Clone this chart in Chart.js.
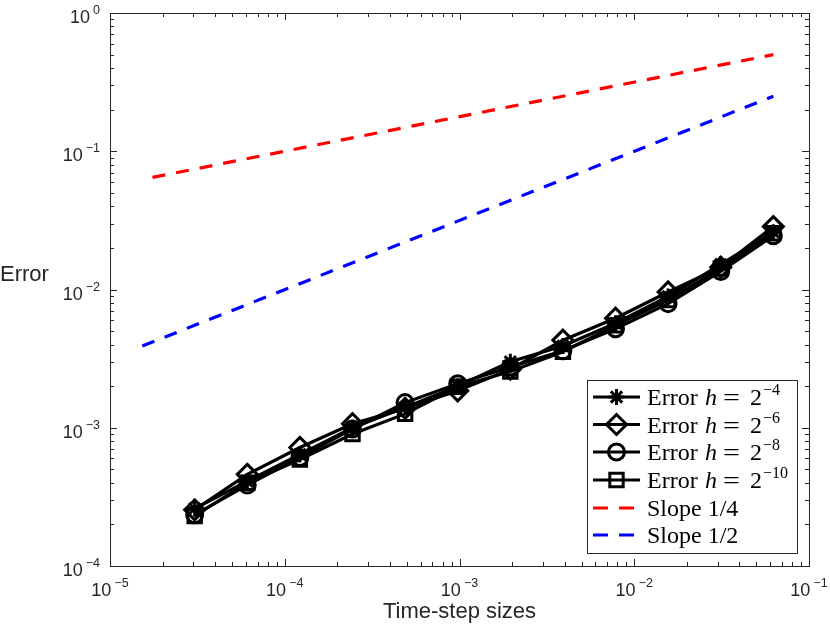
<!DOCTYPE html>
<html>
<head>
<meta charset="utf-8">
<script src="https://cdn.jsdelivr.net/npm/chart.js@4.4.0/dist/chart.umd.min.js"></script>
<style>
  html, body { margin: 0; padding: 0; background: #fff; }
  #wrap { width: 830px; height: 631px; }
</style>
</head>
<body>
<div id="wrap"><canvas id="myChart" width="830" height="631"></canvas></div>
<script>
// time-step sizes (2^-15 ... 2^-4)
const stepSizes = [3.0518e-5, 6.1035e-5, 1.2207e-4, 2.4414e-4, 4.8828e-4, 9.7656e-4,
                   1.9531e-3, 3.9063e-3, 7.8125e-3, 1.5625e-2, 3.125e-2, 6.25e-2]

// errors
const errH4  = [2.6e-4, 4.1e-4, 6.4e-4, 1.0e-3, 1.4e-3, 2.0e-3, 3.0e-3, 3.9e-3, 5.7e-3, 8.9e-3, 1.52e-2, 2.6e-2]
const errH6  = [2.55e-4, 4.6e-4, 7.2e-4, 1.07e-3, 1.38e-3, 1.85e-3, 2.65e-3, 4.3e-3, 6.2e-3, 9.6e-3, 1.45e-2, 2.85e-2]
const errH8  = [2.35e-4, 3.85e-4, 6.1e-4, 9.8e-4, 1.52e-3, 2.08e-3, 2.75e-3, 3.6e-3, 5.2e-3, 7.9e-3, 1.35e-2, 2.45e-2]
const errH10 = [2.3e-4, 4.0e-4, 5.9e-4, 9.0e-4, 1.26e-3, 1.98e-3, 2.55e-3, 3.55e-3, 5.5e-3, 8.4e-3, 1.42e-2, 2.55e-2]

// reference slopes
const slopeQuarterX = [1.75e-5, 6.25e-2]
const slopeQuarterY = [0.0647, 0.5]
const slopeHalfX = [1.53e-5, 6.25e-2]
const slopeHalfY = [0.0039, 0.25]

const xDecades = [-5, -4, -3, -2, -1]
const yDecades = [-4, -3, -2, -1, 0]

const legendRows = [
  { exp: '−4', style: 'star', radius: 8 },
  { exp: '−6', style: 'rectRot', radius: 10 },
  { exp: '−8', style: 'circle', radius: 8 },
  { exp: '−10', style: 'rect', radius: 9.5 },
  { text: 'Slope 1/4', color: '#ff0000' },
  { text: 'Slope 1/2', color: '#0000ff' }
]

function pts(xs, ys) {
  return xs.map((x, i) => ({ x: x, y: ys[i] }))
}

function errSet(label, ys, style, radius) {
  return {
    label: label,
    data: pts(stepSizes, ys),
    borderColor: '#000',
    borderWidth: 3.2,
    pointStyle: style,
    pointRadius: radius,
    pointBorderWidth: 3,
    pointBorderColor: '#000',
    pointBackgroundColor: 'rgba(0,0,0,0)',
    tension: 0
  }
}

function slopeSet(label, xs, ys, color) {
  return {
    label: label,
    data: pts(xs, ys),
    borderColor: color,
    borderWidth: 3.2,
    borderDash: [13, 11],
    pointRadius: 0,
    tension: 0
  }
}

const matlabAxes = {
  id: 'matlabAxes',
  afterDraw(chart) {
    const ctx = chart.ctx
    const a = chart.chartArea
    const xs = chart.scales.x
    const ys = chart.scales.y
    ctx.save()
    ctx.strokeStyle = '#262626'
    ctx.lineWidth = 1
    ctx.strokeRect(a.left + 0.5, a.top + 0.5, a.right - a.left, a.bottom - a.top)

    // ticks on all four sides, pointing in
    ctx.beginPath()
    xDecades.forEach(d => {
      for (let m = 1; m <= 9; m++) {
        const v = m * Math.pow(10, d)
        if (v > 0.1 * 1.0001) continue
        const px = Math.round(xs.getPixelForValue(v)) + 0.5
        const len = m === 1 ? 7 : 4
        ctx.moveTo(px, a.bottom); ctx.lineTo(px, a.bottom - len)
        ctx.moveTo(px, a.top); ctx.lineTo(px, a.top + len)
      }
    })
    yDecades.forEach(d => {
      for (let m = 1; m <= 9; m++) {
        const v = m * Math.pow(10, d)
        if (v > 1.0001) continue
        const py = Math.round(ys.getPixelForValue(v)) + 0.5
        const len = m === 1 ? 7 : 4
        ctx.moveTo(a.left, py); ctx.lineTo(a.left + len, py)
        ctx.moveTo(a.right, py); ctx.lineTo(a.right - len, py)
      }
    })
    ctx.stroke()

    // tick labels 10^n
    ctx.fillStyle = '#262626'
    ctx.textBaseline = 'alphabetic'
    const big = '18px "Liberation Sans", Arial, sans-serif'
    const small = '12.5px "Liberation Sans", Arial, sans-serif'
    function measure(e) {
      ctx.font = big; const w1 = ctx.measureText('10').width
      ctx.font = small; const w2 = ctx.measureText(e).width
      return [w1, w2]
    }
    function power(x0, base, e, w1) {
      ctx.textAlign = 'left'
      ctx.font = big; ctx.fillText('10', x0, base)
      ctx.font = small; ctx.fillText(e, x0 + w1 + 3, base - 9)
    }
    xDecades.forEach(d => {
      const e = d < 0 ? '−' + (-d) : String(d)
      const [w1, w2] = measure(e)
      const px = xs.getPixelForValue(Math.pow(10, d))
      power(px - (w1 + 3 + w2) / 2, a.bottom + 30, e, w1)
    })
    yDecades.forEach(d => {
      const e = d < 0 ? '−' + (-d) : String(d)
      const [w1, w2] = measure(e)
      const py = ys.getPixelForValue(Math.pow(10, d))
      power(a.left - 10 - (w1 + 3 + w2), py + 10, e, w1)
    })

    // axis titles
    ctx.font = '22px "Liberation Sans", Arial, sans-serif'
    ctx.textAlign = 'center'
    ctx.fillText('Time-step sizes', (a.left + a.right) / 2, 618)
    ctx.textAlign = 'left'
    ctx.fillText('Error', 0, 281)

    // legend box
    const bx = 587, by = 380, bw = 210, bh = 173
    ctx.fillStyle = '#fff'
    ctx.fillRect(bx, by, bw, bh)
    ctx.strokeStyle = '#262626'
    ctx.lineWidth = 1
    ctx.strokeRect(bx + 0.5, by + 0.5, bw, bh)
    const rowY = [397, 424.5, 452, 480, 508, 535]
    const serif = '"Liberation Serif", "Times New Roman", serif'
    legendRows.forEach((r, i) => {
      const cy = rowY[i]
      ctx.save()
      ctx.lineWidth = 3.2
      if (r.text) {
        ctx.strokeStyle = r.color
        ctx.setLineDash([15, 11])
        ctx.beginPath(); ctx.moveTo(593, cy); ctx.lineTo(644, cy); ctx.stroke()
        ctx.setLineDash([])
      } else {
        ctx.strokeStyle = '#000'
        ctx.beginPath(); ctx.moveTo(593, cy); ctx.lineTo(640, cy); ctx.stroke()
        ctx.lineWidth = 3
        ctx.fillStyle = 'rgba(0,0,0,0)'
        Chart.helpers.drawPoint(ctx, { pointStyle: r.style, radius: r.radius, rotation: 0, borderWidth: 3 }, 616.5, cy)
      }
      ctx.restore()
      ctx.fillStyle = '#000'
      ctx.textAlign = 'left'
      const base = cy + 8
      if (r.text) {
        ctx.font = '24px ' + serif
        ctx.fillText(r.text, 647, base)
      } else {
        ctx.font = '24px ' + serif
        ctx.fillText('Error', 647, base)
        ctx.font = 'italic 24px ' + serif
        ctx.fillText('h', 705, base)
        ctx.font = '24px ' + serif
        ctx.save()
        ctx.translate(723, base)
        ctx.scale(1.25, 1)
        ctx.fillText('=', 0, 0)
        ctx.restore()
        ctx.fillText('2', 750, base)
        ctx.font = '16px ' + serif
        ctx.fillText(r.exp, 763, base - 10)
      }
    })
    ctx.restore()
  }
}

const ctx = document.getElementById('myChart').getContext('2d')
const chart = new Chart(ctx, {
  type: 'line',
  data: {
    datasets: [
      errSet('Error h = 2^-4', errH4, 'star', 8),
      errSet('Error h = 2^-6', errH6, 'rectRot', 10),
      errSet('Error h = 2^-8', errH8, 'circle', 8),
      errSet('Error h = 2^-10', errH10, 'rect', 9.5),
      slopeSet('Slope 1/4', slopeQuarterX, slopeQuarterY, '#ff0000'),
      slopeSet('Slope 1/2', slopeHalfX, slopeHalfY, '#0000ff')
    ]
  },
  options: {
    responsive: false,
    animation: false,
    devicePixelRatio: 1,
    layout: { padding: { left: 110, right: 21, top: 13, bottom: 65 } },
    scales: {
      x: { type: 'logarithmic', min: 1e-5, max: 1e-1, display: false },
      y: { type: 'logarithmic', min: 1e-4, max: 1, display: false }
    },
    plugins: {
      legend: { display: false },
      tooltip: { enabled: false }
    }
  },
  plugins: [matlabAxes]
})
</script>
</body>
</html>
